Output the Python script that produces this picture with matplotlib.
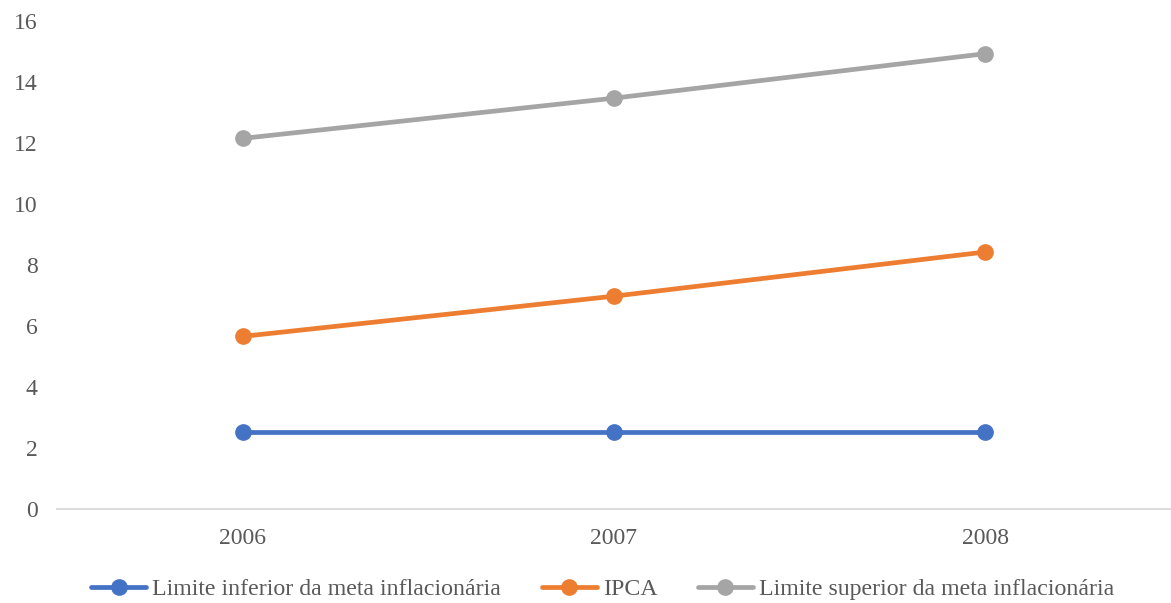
import matplotlib.pyplot as plt
import numpy as np

years = ["2006", "2007", "2008"]
limite_inferior = [2.5, 2.5, 2.5]
ipca = [5.65, 6.97, 8.42]
limite_superior = [12.15, 13.47, 14.93]

series_names = [
    "Limite inferior da meta inflacionária",
    "IPCA",
    "Limite superior da meta inflacionária",
]
COLORS = ["#4472C4", "#ED7D31", "#A5A5A5"]

plt.rcParams.update({
    "font.family": "Liberation Serif",
    "font.size": 17,
})

fig = plt.figure(figsize=(11.71, 6.03), dpi=100)
ax = fig.add_axes([0.0487, 0.1567, 0.951, 0.8083])

x = np.arange(len(years))
for vals, name, color in zip([limite_inferior, ipca, limite_superior], series_names, COLORS):
    ax.plot(x, vals, color=color, linewidth=3.4, marker="o", markersize=11,
            label=name, solid_capstyle="round")

ax.set_xlim(-0.5, 2.5)
ax.set_ylim(0, 16)
ax.set_yticks(np.arange(0, 17, 2))
ax.set_xticks(x)
ax.set_xticklabels(years)

for side in ["top", "right", "left"]:
    ax.spines[side].set_visible(False)
ax.spines["bottom"].set_color("#D9D9D9")
ax.spines["bottom"].set_linewidth(1.3)
ax.tick_params(axis="both", length=0, colors="#595959", labelsize=17)
ax.tick_params(axis="y", pad=14)
ax.tick_params(axis="x", pad=14)

ax.legend(loc="center", bbox_to_anchor=(0.49, -0.166),
          bbox_transform=ax.transAxes, ncol=3, frameon=False,
          handlelength=2.3, handletextpad=0.25, columnspacing=1.7,
          labelcolor="#595959", fontsize=17.2)

fig.savefig("out.png", dpi=100, facecolor="white")
